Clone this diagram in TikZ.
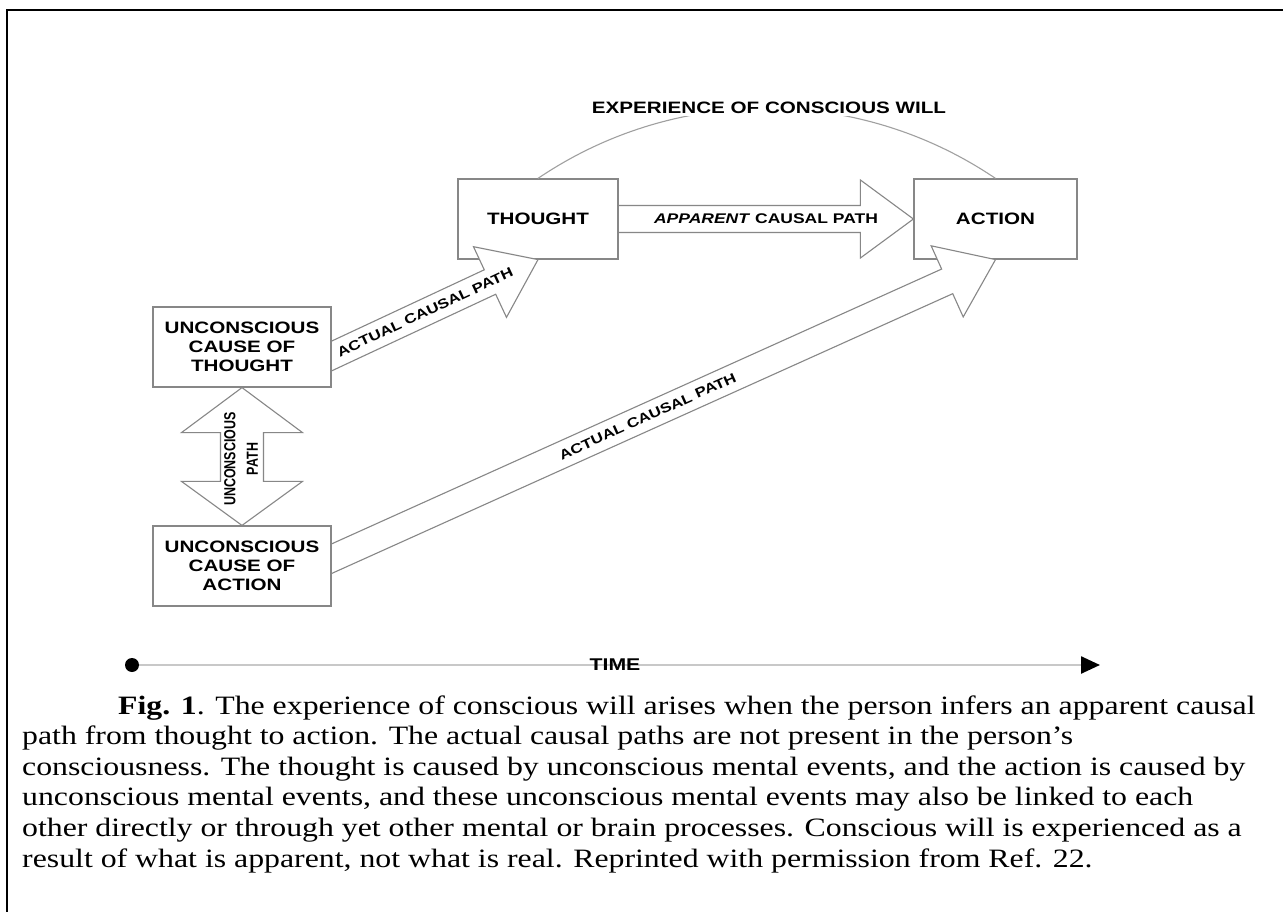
\documentclass[tikz,border=0pt]{standalone}
\usepackage{fontspec}
\setmainfont[FakeStretch=1.2]{Liberation Serif}
\newfontfamily\dfont[FakeStretch=1.25]{Liberation Sans}
\newfontfamily\cfont[FakeStretch=0.78]{Liberation Sans}
\usetikzlibrary{calc,arrows.meta}
\pgfdeclarelayer{bg}
\pgfdeclarelayer{mid}
\pgfsetlayers{bg,mid,main}
\definecolor{linegray}{RGB}{135,135,135}
\definecolor{arcgray}{RGB}{160,160,160}
\definecolor{timegray}{RGB}{200,200,200}
\newcommand\blockarr[6][]{%
  \coordinate (ba-c) at ($(#3)!#6!(#2)$);
  \draw[barrow,#1] ($(#2)!#4!90:(#3)$) -- ($(ba-c)!#4!90:(#3)$) -- ($(ba-c)!#5!90:(#3)$) -- (#3) -- ($(ba-c)!#5!-90:(#3)$) -- ($(ba-c)!#4!-90:(#3)$) -- ($(#2)!#4!-90:(#3)$);
}
\begin{document}
\begin{tikzpicture}[x=1pt,y=1pt,
  bigfont/.style={font=\dfont\bfseries\fontsize{16.5}{18.7}\selectfont},
  box/.style={bigfont, draw=linegray, line width=1.2pt, fill=white, inner sep=0pt, align=center},
  barrow/.style={draw=linegray, line width=1.1pt, fill=white, line join=miter},
  lbl/.style={font=\dfont\bfseries\fontsize{13.5}{15}\selectfont, inner sep=0pt},
  captxt/.style={anchor=base west, inner sep=0pt, font=\fontsize{26.5}{30.6}\selectfont}]
\useasboundingbox (0,0) rectangle (1283,-912);

\begin{pgfonlayer}{bg}
\fill[white] (0,0) rectangle (1283,-912);
\node[box, minimum width=160pt, minimum height=80pt] (thought) at (538,-219) {THOUGHT};
\node[box, minimum width=163pt, minimum height=80pt] (action) at (995.5,-219) {ACTION};
\draw[arcgray, line width=1.1pt] (thought.north) arc[start angle=124.1, end angle=55.9, radius=408pt];
\end{pgfonlayer}

\draw[line width=2pt] (6.7,-912) -- (6.7,-10) -- (1283,-10);

\node[box, minimum width=178pt, minimum height=80pt] (uct) at (242,-347) {UNCONSCIOUS\\CAUSE OF\\THOUGHT};
\node[box, minimum width=178pt, minimum height=80pt] (uca) at (242,-566) {UNCONSCIOUS\\CAUSE OF\\ACTION};

\coordinate (p1) at ($(uct.east)+(0,-9)$);
\coordinate (p2) at ($(uca.east)+(0,7.3)$);
\coordinate (s1) at ($(p1)!-40pt!(thought.south)$);
\coordinate (s2) at ($(p2)!-40pt!(action.south)$);

\begin{pgfonlayer}{mid}
\blockarr{s2}{action.south}{13.5pt}{39pt}{53pt}
\blockarr{s1}{thought.south}{13.5pt}{39pt}{53pt}
\blockarr[fill=none]{thought.east}{action.west}{13.5pt}{39pt}{53pt}
\draw[barrow] (uct.south) -- ($(uct.south)+(60.5,-45)$) -- ($(uct.south)+(21.5,-45)$)
  -- ($(uca.north)+(21.5,44)$) -- ($(uca.north)+(60.5,44)$) -- (uca.north)
  -- ($(uca.north)+(-60.5,44)$) -- ($(uca.north)+(-21.5,44)$)
  -- ($(uct.south)+(-21.5,-45)$) -- ($(uct.south)+(-60.5,-45)$) -- cycle;
\end{pgfonlayer}

\path (p1) -- (thought.south) node[lbl, sloped, pos=0.453] (l1) {ACTUAL CAUSAL PATH};
\path (p2) -- (action.south) node[lbl, sloped, pos=0.476] (l2) {ACTUAL CAUSAL PATH};
\path (thought.east) -- (action.west) node[lbl, pos=0.5, font=\dfont\bfseries\fontsize{14}{15}\selectfont] (l3) {\textit{APPARENT} CAUSAL PATH};
\node[font=\cfont\bfseries\fontsize{16}{22.5}\selectfont, rotate=90, align=center, inner sep=0pt] (l4) at (241,-459) {UNCONSCIOUS\\PATH};
\node[bigfont, fill=white, inner sep=2pt] (exp) at (769,-108) {EXPERIENCE OF CONSCIOUS WILL};

\coordinate (t0) at (132,-665);
\coordinate (t1) at (1100,-665);
\draw[timegray, line width=2.5pt, -{Triangle[length=19pt,width=17pt,black]}] (t0) -- (t1);
\node[circle, fill=black, inner sep=0pt, minimum size=14pt] (dot) at (t0) {};
\node[font=\dfont\bfseries\fontsize{17}{17}\selectfont, inner sep=0pt] (time) at (615,-665) {TIME};

\node[captxt] (c1) at (118,-714) {\textbf{Fig. 1}. The experience of conscious will arises when the person infers an apparent causal};
\node[captxt] (c2) at (22,-744.6) {path from thought to action. The actual causal paths are not present in the person’s};
\node[captxt] (c3) at (22,-775.2) {consciousness. The thought is caused by unconscious mental events, and the action is caused by};
\node[captxt] (c4) at (22,-805.8) {unconscious mental events, and these unconscious mental events may also be linked to each};
\node[captxt] (c5) at (22,-836.4) {other directly or through yet other mental or brain processes. Conscious will is experienced as a};
\node[captxt] (c6) at (22,-867) {result of what is apparent, not what is real. Reprinted with permission from Ref. 22.};
\end{tikzpicture}
\end{document}
